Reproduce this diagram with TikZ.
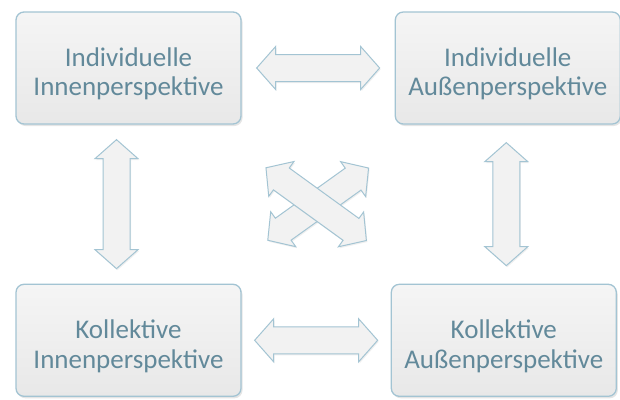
\documentclass[tikz,border=0pt]{standalone}
\usepackage{fontspec}
\setmainfont{Carlito}
\usepackage{tikz}
\usetikzlibrary{positioning,shadows}
\definecolor{boxline}{HTML}{A3C4D3}
\definecolor{boxtop}{HTML}{F5F5F5}
\definecolor{boxbottom}{HTML}{E8E8E8}
\definecolor{labeltext}{HTML}{62899A}
\definecolor{arrowfill}{HTML}{F2F2F2}
\tikzstyle{perspective} = [draw=boxline, line width=1.3pt, rounded corners=8pt,
  top color=boxtop, bottom color=boxbottom, minimum width=225pt, minimum height=112pt,
  align=center, text=labeltext, font=\fontsize{27}{29.5}\selectfont,
  execute at begin node={\rule{0pt}{60pt}},
  drop shadow={shadow xshift=1.5pt, shadow yshift=-2pt, opacity=.2}]
\tikzstyle{arrowbody} = [draw=boxline, line width=1pt, fill=arrowfill, line join=miter,
  drop shadow={shadow xshift=1pt, shadow yshift=-1.5pt, opacity=.12}]
% wide double-headed arrow, #1 = half length
\tikzset{pics/dblarrow/.style={code={
  \draw[arrowbody] (-#1pt,0pt) -- ({19pt-#1pt},21.5pt) -- ({19pt-#1pt},13.5pt)
    -- ({#1pt-19pt},13.5pt) -- ({#1pt-19pt},21.5pt) -- (#1pt,0pt)
    -- ({#1pt-19pt},-21.5pt) -- ({#1pt-19pt},-13.5pt) -- ({19pt-#1pt},-13.5pt)
    -- ({19pt-#1pt},-21.5pt) -- cycle;
}}}

\begin{document}
\begin{tikzpicture}[x=1pt, y=-1pt]
    \useasboundingbox[fill=white] (0,0) rectangle (620,399);
    \node[perspective] (ii) at (128.5,68) {Individuelle\\Innenperspektive};
    \node[perspective, right=153pt of ii] (ia) {Individuelle\\Außenperspektive};
    \node[perspective, below=159pt of ii] (ki) {Kollektive\\Innenperspektive};
    \node[perspective, right=149pt of ki] (ka) {Kollektive\\Außenperspektive};
    % arrows between neighbouring boxes
    \path (ii) -- (ia) pic[midway, sloped]{dblarrow=61.5};
    \path (ki) -- (ka) pic[midway, sloped]{dblarrow=61.5};
    \path ([xshift=-12pt]ii.south) -- ([xshift=-12pt]ki.north) pic[midway, sloped]{dblarrow=64.5};
    \path ([xshift=-1.5pt]ia.south) -- ([xshift=-1.5pt]ia.south |- ka.north) pic[midway, sloped]{dblarrow=61.5};
    % crossing arrows, the falling one on top
    \path (ki) -- (ia) pic[midway, sloped]{dblarrow=62};
    \path (ii) -- (ka) pic[midway, sloped]{dblarrow=62};
\end{tikzpicture}
\end{document}
